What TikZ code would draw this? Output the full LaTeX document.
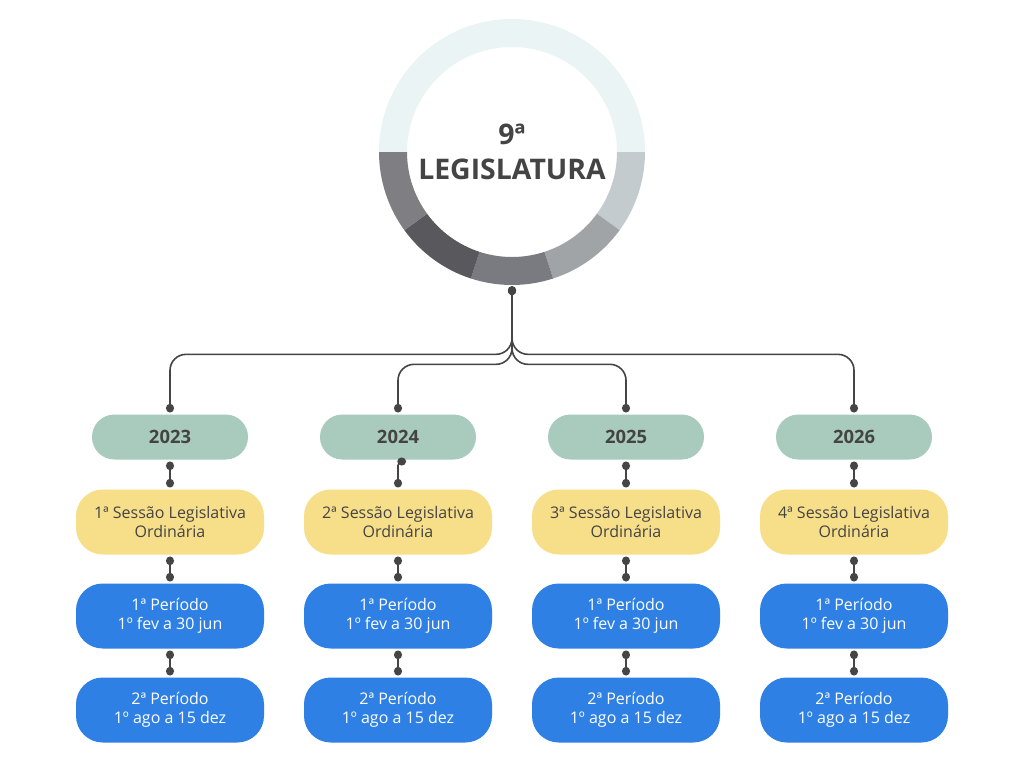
\documentclass[tikz,border=0pt]{standalone}
\usepackage{fontspec}
\setmainfont{Open Sans}
\usetikzlibrary{arrows.meta}

\definecolor{ringlight}{HTML}{EBF4F5}
\definecolor{ringA}{HTML}{C4CBCE}
\definecolor{ringB}{HTML}{A0A4A7}
\definecolor{ringC}{HTML}{7A7B80}
\definecolor{ringD}{HTML}{58585D}
\definecolor{ringE}{HTML}{7E7E83}
\definecolor{linkgray}{HTML}{454545}
\definecolor{textdark}{HTML}{444444}
\definecolor{yeargreen}{HTML}{A9CBBE}
\definecolor{sessyellow}{HTML}{F7DF8A}
\definecolor{perblue}{HTML}{2E80E4}

% one piece of the ring: colour, start angle, end angle
\newcommand{\ringpart}[3]{\fill[#1] (512,152) ++(#2:133) arc[start angle=#2, end angle=#3, radius=133] -- ++(#3:-28) arc[start angle=#3, end angle=#2, radius=105] -- cycle;}

\tikzset{every picture/.style={line width=0.75pt}}
\tikzset{
  yearbox/.style={fill=yeargreen, text=textdark, font=\bfseries\fontsize{13.8}{16}\selectfont, minimum width=117pt, minimum height=33.75pt, rounded corners=16.8pt, inner sep=0pt, outer sep=1.5pt},
  sessbox/.style={fill=sessyellow, text=textdark, font=\fontsize{12}{14.25}\selectfont, align=center, minimum width=141pt, minimum height=48.75pt, rounded corners=20pt, inner sep=0pt, outer sep=1.5pt},
  perbox/.style={sessbox, fill=perblue, text=white},
  link/.style={draw=linkgray, line width=1.2pt, {Circle[length=6.5pt,width=6pt]}-{Circle[length=6.5pt,width=6pt]}},
  branch/.style={link, rounded corners=12pt}
}

\begin{document}
\begin{tikzpicture}[x=0.75pt,y=0.75pt,yscale=-1,xscale=1]
	\useasboundingbox (0,0) rectangle (1024,768);
	\fill[white] (0,0) rectangle (1024,768);

	%Shape: Ring
	\ringpart{ringlight}{180}{360}
	\ringpart{ringA}{0}{36}
	\ringpart{ringB}{36}{72}
	\ringpart{ringC}{72}{108}
	\ringpart{ringD}{108}{144}
	\ringpart{ringE}{144}{180}

	% Text Node
	\node[circle, minimum size=199.5pt, inner sep=0pt, outer sep=1pt, align=center, text=textdark, font=\bfseries\fontsize{21.3}{26}\selectfont] (legis) at (512,152) {9ª\\LEGISLATURA};

	% Years
	\node[yearbox] (y2023) at (170,437) {2023};
	\node[yearbox] (y2024) at (398,437) {2024};
	\node[yearbox] (y2025) at (626,437) {2025};
	\node[yearbox] (y2026) at (854,437) {2026};

	% Sessions
	\node[sessbox] (s2023) at (170,522) {1ª Sessão Legislativa\\Ordinária};
	\node[sessbox] (s2024) at (398,522) {2ª Sessão Legislativa\\Ordinária};
	\node[sessbox] (s2025) at (626,522) {3ª Sessão Legislativa\\Ordinária};
	\node[sessbox] (s2026) at (854,522) {4ª Sessão Legislativa\\Ordinária};

	% Periods
	\node[perbox] (pa2023) at (170,616) {1ª Período\\1º fev a 30 jun};
	\node[perbox] (pa2024) at (398,616) {1ª Período\\1º fev a 30 jun};
	\node[perbox] (pa2025) at (626,616) {1ª Período\\1º fev a 30 jun};
	\node[perbox] (pa2026) at (854,616) {1ª Período\\1º fev a 30 jun};
	\node[perbox] (pb2023) at (170,710) {2ª Período\\1º ago a 15 dez};
	\node[perbox] (pb2024) at (398,710) {2ª Período\\1º ago a 15 dez};
	\node[perbox] (pb2025) at (626,710) {2ª Período\\1º ago a 15 dez};
	\node[perbox] (pb2026) at (854,710) {2ª Período\\1º ago a 15 dez};

	%Connectors from the ring
	\draw[branch] (legis.south) -- ++(0,68) -| (y2023.north);
	\draw[branch] (legis.south) -- ++(0,78) -| (y2024.north);
	\draw[branch] (legis.south) -- ++(0,78) -| (y2025.north);
	\draw[branch] (legis.south) -- ++(0,68) -| (y2026.north);

	%Connectors down the columns
	\draw[link] (y2023.south) -- (s2023.north);
	\draw[link, rounded corners=3pt] ([xshift=6pt]y2024.south) -| (s2024.north);
	\draw[link] (y2025.south) -- (s2025.north);
	\draw[link] (y2026.south) -- (s2026.north);
	\draw[link] (s2023.south) -- (pa2023.north);
	\draw[link] (s2024.south) -- (pa2024.north);
	\draw[link] (s2025.south) -- (pa2025.north);
	\draw[link] (s2026.south) -- (pa2026.north);
	\draw[link] (pa2023.south) -- (pb2023.north);
	\draw[link] (pa2024.south) -- (pb2024.north);
	\draw[link] (pa2025.south) -- (pb2025.north);
	\draw[link] (pa2026.south) -- (pb2026.north);

\end{tikzpicture}
\end{document}
